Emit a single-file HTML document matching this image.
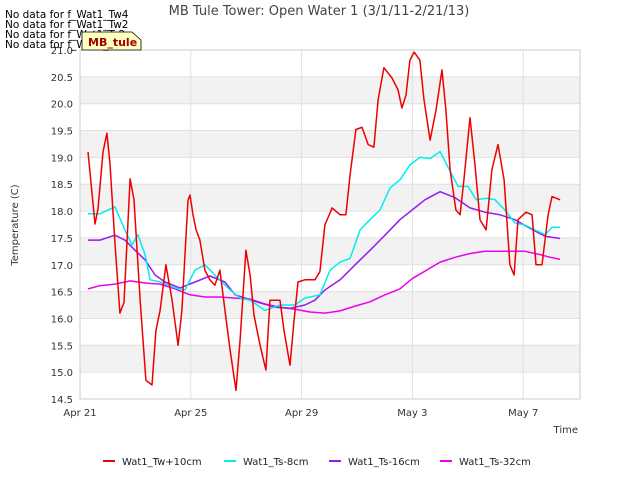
<!DOCTYPE html>
<html><head><meta charset="utf-8"><style>
body{margin:0;background:#fff;font-family:"Liberation Sans","DejaVu Sans",sans-serif;}
svg text{font-family:"DejaVu Sans","Liberation Sans",sans-serif;}
</style></head><body>
<svg id="chart" width="640" height="480" viewBox="0 0 640 480" xmlns="http://www.w3.org/2000/svg">
<rect width="640" height="480" fill="#fff"/>
<g id="bands"></g>
<g id="grid"></g>
<rect x="80" y="50" width="500" height="349" fill="none" stroke="#cccccc"/>
<g id="ticks"></g>
<g id="series"></g>
<text x="319" y="15" font-size="13" fill="#444" text-anchor="middle">MB Tule Tower: Open Water 1 (3/1/11-2/21/13)</text>
<text x="18" y="225" font-size="10" fill="#333" text-anchor="middle" transform="rotate(-90 18 225)">Temperature (C)</text>
<text x="578" y="433" font-size="10" fill="#333" text-anchor="end">Time</text>
<g font-size="10.5" fill="#000">
<text x="5" y="18">No data for f_Wat1_Tw4</text>
<text x="5" y="28">No data for f_Wat1_Tw2</text>
<text x="5" y="38">No data for f_Wat1_Ts2</text>
<text x="5" y="48">No data for f_Wat1_Ts4</text>
</g>
<g>
<path d="M82 32 L132 32 L141 40 L141 50 L82 50 Z" fill="#ffffc0" stroke="#000" stroke-width="0.8"/>
<text x="88" y="46" font-size="11" font-weight="bold" fill="#a00000">MB_tule</text>
</g>
<g id="legend"></g>
</svg>
<script>
const yTicks=[14.5,15,15.5,16,16.5,17,17.5,18,18.5,19,19.5,20,20.5,21];
const xTickDays=[0,4,8,12,16];
const xTickLabels=["Apr 21","Apr 25","Apr 29","May 3","May 7"];
const seriesNames=["Wat1_Tw+10cm","Wat1_Ts-8cm","Wat1_Ts-16cm","Wat1_Ts-32cm"];
const seriesColors=["#ee0000","#00eeee","#9a1aee","#ee00ee"];
const redDays=[0.29,0.54,0.65,0.83,0.97,1.08,1.26,1.44,1.59,1.81,1.95,2.17,2.38,2.60,2.74,2.89,3.10,3.32,3.54,3.68,3.90,3.97,4.08,4.19,4.33,4.51,4.69,4.87,5.05,5.23,5.42,5.63,5.78,5.99,6.14,6.28,6.50,6.71,6.86,7.00,7.22,7.36,7.58,7.73,7.87,8.12,8.48,8.66,8.84,9.10,9.39,9.60,9.75,9.96,10.18,10.40,10.61,10.76,10.97,11.26,11.48,11.62,11.77,11.91,12.06,12.27,12.42,12.64,12.85,13.07,13.21,13.36,13.57,13.72,13.86,14.08,14.26,14.44,14.66,14.87,15.09,15.31,15.52,15.67,15.81,16.10,16.32,16.46,16.68,16.90,17.04,17.33];
const redVals=[19.1,17.76,18.04,19.1,19.45,18.9,17.42,16.1,16.3,18.6,18.21,16.35,14.85,14.76,15.77,16.15,17.0,16.35,15.5,16.15,18.2,18.3,17.93,17.65,17.46,16.9,16.72,16.62,16.9,16.16,15.41,14.66,15.6,17.27,16.81,16.06,15.5,15.04,16.34,16.34,16.34,15.79,15.13,15.97,16.68,16.72,16.72,16.87,17.74,18.06,17.93,17.93,18.68,19.52,19.56,19.24,19.19,20.07,20.67,20.48,20.26,19.92,20.16,20.81,20.96,20.81,20.07,19.32,19.88,20.63,19.88,18.77,18.02,17.93,18.58,19.74,18.86,17.84,17.65,18.77,19.24,18.58,17.0,16.81,17.84,17.98,17.93,17.0,17.0,17.93,18.27,18.21];
const cyanDays=[0.29,0.72,1.26,1.62,1.88,2.09,2.35,2.53,2.89,3.43,3.79,4.15,4.51,4.87,5.42,5.78,6.14,6.68,7.22,7.76,8.12,8.66,9.03,9.39,9.75,10.11,10.47,10.83,11.19,11.55,11.91,12.27,12.64,13.0,13.36,13.65,14.01,14.30,14.66,14.98,15.34,15.70,16.06,16.43,16.79,17.04,17.33];
const cyanVals=[17.95,17.95,18.08,17.65,17.37,17.56,17.19,16.72,16.68,16.57,16.53,16.9,17.0,16.81,16.53,16.38,16.34,16.15,16.25,16.25,16.38,16.44,16.9,17.05,17.12,17.65,17.84,18.02,18.43,18.58,18.86,19.0,18.98,19.11,18.74,18.46,18.46,18.21,18.24,18.21,18.02,17.78,17.74,17.65,17.56,17.70,17.70];
const purpleDays=[0.29,0.72,1.26,1.62,1.99,2.35,2.71,3.07,3.61,4.15,4.69,5.23,5.60,5.96,6.50,7.04,7.58,8.12,8.48,8.84,9.39,9.93,10.47,11.01,11.55,11.99,12.45,13.0,13.54,14.08,14.62,15.16,15.70,16.25,16.79,17.33];
const purpleVals=[17.46,17.46,17.55,17.46,17.27,17.09,16.81,16.68,16.57,16.68,16.79,16.68,16.44,16.38,16.29,16.21,16.19,16.25,16.34,16.53,16.72,17.0,17.27,17.55,17.84,18.02,18.21,18.36,18.25,18.06,17.98,17.93,17.84,17.68,17.53,17.49];
const magentaDays=[0.29,0.72,1.26,1.81,2.35,2.89,3.43,3.97,4.51,5.05,5.60,6.14,6.68,7.22,7.76,8.30,8.84,9.39,9.93,10.47,11.01,11.55,11.99,12.45,13.0,13.54,14.08,14.62,15.16,15.70,16.06,16.61,16.98,17.33];
const magentaVals=[16.55,16.61,16.64,16.70,16.66,16.64,16.55,16.44,16.40,16.40,16.38,16.36,16.27,16.21,16.17,16.12,16.10,16.14,16.23,16.31,16.44,16.55,16.74,16.88,17.05,17.14,17.21,17.25,17.25,17.25,17.25,17.19,17.14,17.1];

const NS="http://www.w3.org/2000/svg";
const X0=80,X1=580,Y0=399,Y1=50,D0=0,D1=18.05,V0=14.5,V1=21;
function xs(d){return X0+(d-D0)/(D1-D0)*(X1-X0);}
function ys(v){return Y0-(v-V0)/(V1-V0)*(Y0-Y1);}
function mk(tag,attrs,parent){const e=document.createElementNS(NS,tag);for(const k in attrs)e.setAttribute(k,attrs[k]);parent.appendChild(e);return e;}
const bands=document.getElementById('bands'),grid=document.getElementById('grid'),ticks=document.getElementById('ticks');
for(let i=0;i<yTicks.length-1;i++){
  if(i%2===1){
    const r=mk('rect',{x:X0,y:ys(yTicks[i+1]),width:X1-X0,height:ys(yTicks[i])-ys(yTicks[i+1]),fill:'#f2f2f2'},bands);
    
    
  }
}
yTicks.forEach(v=>{
  const l=mk('line',{x1:X0,x2:X1,y1:ys(v),y2:ys(v),stroke:'#e0e0e0'},grid);
  
  
  const t=mk('text',{x:X0-7,y:ys(v)+4,'font-size':'10','text-anchor':'end',fill:'#333'},ticks);
  t.textContent=v.toFixed(1);
  
  
});
xTickDays.forEach((d,i)=>{
  const l=mk('line',{x1:xs(d),x2:xs(d),y1:Y1,y2:Y0,stroke:'#e0e0e0'},grid);
  
  
  const t=mk('text',{x:xs(d),y:Y0+17,'font-size':'10','text-anchor':'middle',fill:'#333'},ticks);
  t.textContent=xTickLabels[i];
  
  
});
const ser=document.getElementById('series');
const allDays=[redDays,cyanDays,purpleDays,magentaDays],allVals=[redVals,cyanVals,purpleVals,magentaVals];
const snames=['series-tw-10cm','series-ts-8cm','series-ts-16cm','series-ts-32cm'];
[3,2,1,0].forEach(i=>{
  const pts=allDays[i].map((d,j)=>xs(d).toFixed(1)+','+ys(allVals[i][j]).toFixed(1)).join(' ');
  const p=mk('polyline',{points:pts,fill:'none',stroke:seriesColors[i],'stroke-width':'1.5','stroke-linejoin':'round'},ser);
  
  
});
const leg=document.getElementById('legend');
const lx=[103,224,329,440];
seriesNames.forEach((n,i)=>{
  const g=mk('g',{},leg);
  
  
  mk('line',{x1:lx[i],x2:lx[i]+12,y1:461,y2:461,stroke:seriesColors[i],'stroke-width':'2'},g);
  const t=mk('text',{x:lx[i]+19,y:465,'font-size':'10',fill:'#222'},g);
  t.textContent=n;
});
</script>
</body></html>
